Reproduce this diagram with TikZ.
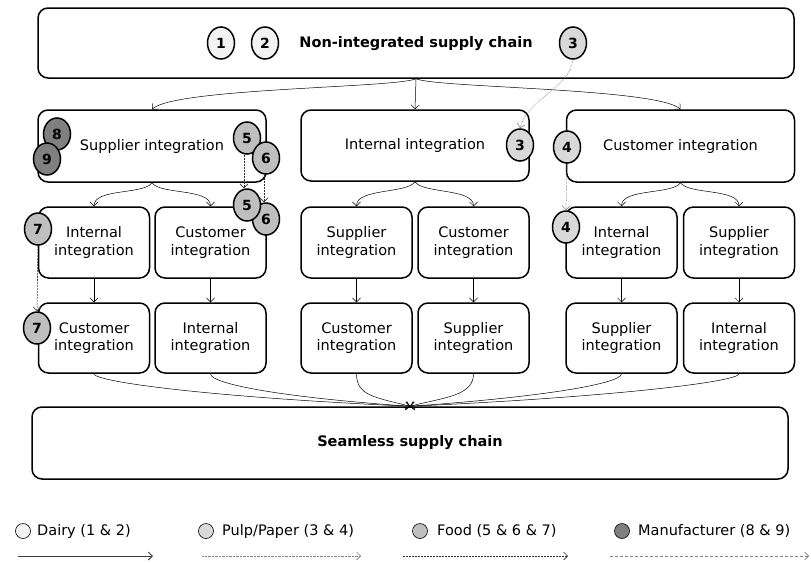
\documentclass[tikz,border=0pt]{standalone}
\usepackage{fontspec}
\setmainfont{DejaVu Sans}
\usetikzlibrary{shapes.geometric,arrows.meta}

\definecolor{dairyfill}{HTML}{F2F2F2}
\definecolor{pulpfill}{HTML}{D9D9D9}
\definecolor{foodfill}{HTML}{BFBFBF}
\definecolor{manufill}{HTML}{808080}

\begin{document}
\begin{tikzpicture}[x=1pt,y=-1pt,
  font=\fontsize{14.5}{17.5}\selectfont,
  stage/.style={draw, line width=1.5pt, rounded corners=10pt, align=center, inner sep=0pt},
  wide/.style={stage, minimum width=756pt},
  half/.style={stage, minimum width=228pt, minimum height=71pt},
  small/.style={stage, minimum width=111pt, minimum height=71pt},
  tag/.style={draw, line width=1.5pt, ellipse, minimum width=27pt, minimum height=32pt,
              inner sep=0pt, font=\fontsize{14}{14}\selectfont\bfseries},
  dairy/.style={tag, fill=dairyfill},
  pulp/.style={tag, fill=pulpfill},
  food/.style={tag, fill=foodfill},
  manu/.style={tag, fill=manufill},
  tip/.style={-{Straight Barb[length=4pt,width=8pt]}},
  flow/.style={tip, line width=0.5pt, black},
  pulppath/.style={tip, line width=0.6pt, gray, dash pattern=on 0.6pt off 0.8pt},
  foodpath/.style={tip, line width=0.6pt, black!80, dash pattern=on 2pt off 1pt},
  manupath/.style={tip, line width=0.6pt, gray, dash pattern=on 3pt off 2pt},
  dairypath/.style={tip, line width=1pt, black!75},
  key/.style={circle, draw, line width=0.6pt, minimum size=15pt, inner sep=0pt},
  keytext/.style={anchor=west, inner sep=0pt}
]
\useasboundingbox (0,0) rectangle (811,563);

% ---- stages ----
\node[wide, minimum height=70pt] (top) at (416,43) {};
\node[font=\fontsize{14.5}{17.5}\selectfont\bfseries] (toptext) at (416,44) {Non-integrated supply chain};

\node[half, minimum height=72pt] (sup) at (152,146) {Supplier integration};
\node[half] (int) at (415,145.5) {Internal integration};
\node[half, minimum height=72pt] (cus) at (680.5,146) {Customer integration};

\node[small] (s1) at (94,242.5) {Internal\\integration};
\node[small] (s2) at (210.5,242.5) {Customer\\integration};
\node[small] (i1) at (356.5,242.5) {Supplier\\integration};
\node[small] (i2) at (473.5,242.5) {Customer\\integration};
\node[small] (c1) at (621.5,242.5) {Internal\\integration};
\node[small] (c2) at (739,242.5) {Supplier\\integration};

\node[small, minimum height=70pt] (s3) at (94,338) {Customer\\integration};
\node[small, minimum height=70pt] (s4) at (210.5,338) {Internal\\integration};
\node[small, minimum height=70pt] (i3) at (356.5,338) {Customer\\integration};
\node[small, minimum height=70pt] (i4) at (473.5,338) {Supplier\\integration};
\node[small, minimum height=70pt] (c3) at (621.5,338) {Supplier\\integration};
\node[small, minimum height=70pt] (c4) at (739,338) {Internal\\integration};

\node[wide, minimum height=72pt, font=\fontsize{14.5}{17.5}\selectfont\bfseries] (end) at (410,443) {Seamless supply chain};

% ---- structural flow ----
\draw[flow] (top.south) .. controls (395,88) and (175,88) .. (sup.north);
\draw[flow] (top.south) -- (int.north);
\draw[flow] (top.south) .. controls (437,88) and (657,88) .. (cus.north);

\foreach \p/\a/\b in {sup/s1/s2, int/i1/i2, cus/c1/c2}{
  \draw[flow] (\p.south) .. controls +(-8,12) and +(0,-18) .. (\a.north);
  \draw[flow] (\p.south) .. controls +(8,12) and +(0,-18) .. (\b.north);
}
\foreach \a/\b in {s1/s3, s2/s4, i1/i3, i2/i4, c1/c3, c2/c4}{
  \draw[flow] (\a.south) -- (\b.north);
}
\foreach \n/\d/\e in {s3/-200/8, s4/-130/10, i3/-35/22, i4/35/22, c3/130/10, c4/200/8}{
  \draw[flow] (\n.south) .. controls +(0,\e) and +(\d,-9) .. (end.north);
}

% ---- case markers ----
\node[dairy] (m1) at (221,43) {1};
\node[dairy] (m2) at (265,43) {2};
\node[pulp]  (m3a) at (573,43) {3};
\node[pulp]  (m3b) at (520,145) {3};
\node[pulp]  (m4a) at (567,147) {4};
\node[pulp]  (m4b) at (566,227) {4};
\node[manu]  (m8) at (57,134) {8};
\node[manu]  (m9) at (47,159) {9};
\node[food]  (m5a) at (247,138) {5};
\node[food]  (m6a) at (266,158) {6};
\node[food]  (m6b) at (266,219) {6};
\node[food]  (m5b) at (247,205) {5};
\node[food]  (m7a) at (38,229) {7};
\node[food]  (m7b) at (37,328) {7};

% ---- case paths ----
\draw[pulppath] (m3a.south) .. controls +(-3,28) and +(8,-30) .. (m3b.north);
\draw[pulppath] (m4a.south) -- (m4b.north);
\draw[foodpath] ([xshift=-3pt]m5a.south) -- ([xshift=-3pt]m5b.north);
\draw[foodpath] ([xshift=-2pt]m6a.south) -- ([xshift=-2pt]m6b.north);
\draw[foodpath] (m7a.south) -- (m7b.north);

% ---- legend ----
\node[key, fill=dairyfill] (k1) at (23,531) {};
\node[keytext] (t1) at (37,531) {Dairy (1 \& 2)};
\node[key, fill=pulpfill] (k2) at (206,531) {};
\node[keytext] (t2) at (222,531) {Pulp/Paper (3 \& 4)};
\node[key, fill=foodfill] (k3) at (420,531) {};
\node[keytext] (t3) at (437,531) {Food (5 \& 6 \& 7)};
\node[key, fill=manufill] (k4) at (622,531) {};
\node[keytext] (t4) at (638,531) {Manufacturer (8 \& 9)};

\coordinate (a1s) at (18,556);  \coordinate (a1e) at (153,556);
\coordinate (a2s) at (202,556); \coordinate (a2e) at (361,556);
\coordinate (a3s) at (403,556); \coordinate (a3e) at (568,556);
\coordinate (a4s) at (610,556); \coordinate (a4e) at (809,556);
\draw[dairypath] (a1s) -- (a1e);
\draw[pulppath] (a2s) -- (a2e);
\draw[foodpath] (a3s) -- (a3e);
\draw[manupath] (a4s) -- (a4e);
\end{tikzpicture}
\end{document}
